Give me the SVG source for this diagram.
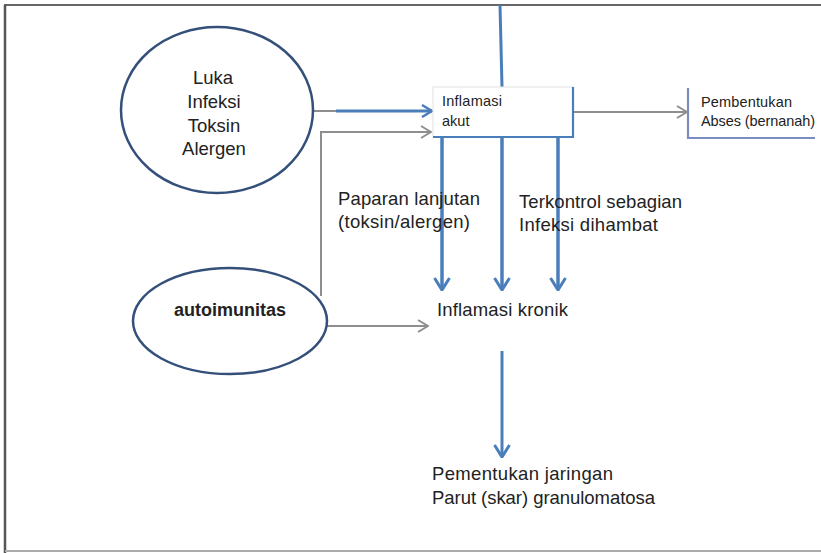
<svg xmlns="http://www.w3.org/2000/svg" width="821" height="553" viewBox="0 0 821 553">
<style>
.t{font-family:"Liberation Sans",Arial,sans-serif;font-size:18.5px;fill:#222}
.s{font-family:"Liberation Sans",Arial,sans-serif;font-size:14.5px;fill:#222}
.b{font-family:"Liberation Sans",Arial,sans-serif;font-size:18px;font-weight:bold;fill:#222}
.ell{fill:#fff;stroke:#34507a;stroke-width:2.5}
.blue{stroke:#4a7ebb;fill:none}
.gray{stroke:#8e8e8e;fill:none;stroke-width:2}
</style>
<defs>
<marker id="bh" viewBox="0 0 14 18" refX="13" refY="9" markerWidth="14" markerHeight="18" markerUnits="userSpaceOnUse" orient="auto">
<path d="M1,1.5 L13,9 L1,16.5" fill="none" stroke="#4a7ebb" stroke-width="3"/>
</marker>
<marker id="bs" viewBox="0 0 12 14" refX="11" refY="7" markerWidth="12" markerHeight="14" markerUnits="userSpaceOnUse" orient="auto">
<path d="M1,1 L11,7 L1,13" fill="none" stroke="#4a7ebb" stroke-width="2.5"/>
</marker>
<marker id="gh" viewBox="0 0 12 14" refX="11" refY="7" markerWidth="12" markerHeight="14" markerUnits="userSpaceOnUse" orient="auto">
<path d="M1,1 L11,7 L1,13" fill="none" stroke="#8e8e8e" stroke-width="2"/>
</marker>
</defs>
<rect width="821" height="553" fill="#fff"/>
<g id="frame">
<line x1="4" y1="5" x2="821" y2="5" stroke="#666" stroke-width="2"/>
<line x1="5" y1="5" x2="5" y2="553" stroke="#555" stroke-width="2.5"/>
<line x1="5" y1="551" x2="821" y2="551" stroke="#aaa" stroke-width="2"/>
</g>
<g id="connectors">
<line class="blue" x1="500" y1="5" x2="502" y2="87" stroke-width="3"/>
<line class="gray" x1="314" y1="111" x2="337" y2="111" stroke-width="2.5"/>
<line class="blue" x1="336" y1="111" x2="432" y2="111" stroke-width="3" marker-end="url(#bs)"/>
<polyline class="gray" points="321,296 321,132 431,132" marker-end="url(#gh)"/>
<line class="gray" x1="327" y1="326" x2="428" y2="326" marker-end="url(#gh)"/>
<line class="gray" x1="573" y1="112" x2="687" y2="112" marker-end="url(#gh)"/>
<line class="blue" x1="442" y1="132" x2="442" y2="290" stroke-width="3.5" marker-end="url(#bh)"/>
<line class="blue" x1="502" y1="137" x2="502" y2="290" stroke-width="3.5" marker-end="url(#bh)"/>
<line class="blue" x1="558" y1="135" x2="558" y2="290" stroke-width="3.5" marker-end="url(#bh)"/>
<line class="blue" x1="502" y1="351" x2="502" y2="457" stroke-width="3" marker-end="url(#bh)"/>
</g>
<g id="n-penyebab">
<ellipse class="ell" cx="217" cy="110" rx="96" ry="83"/>
<text class="t" x="213" y="84" text-anchor="middle">Luka</text>
<text class="t" x="214" y="108" text-anchor="middle">Infeksi</text>
<text class="t" x="214" y="132" text-anchor="middle">Toksin</text>
<text class="t" x="214" y="155" text-anchor="middle">Alergen</text>
</g>
<g id="n-autoimunitas">
<ellipse class="ell" cx="230" cy="321" rx="97" ry="53"/>
<text class="b" x="230" y="316" text-anchor="middle">autoimunitas</text>
</g>
<g id="n-akut">
<rect x="433" y="87" width="140" height="50" fill="#fff" stroke="#e2e2e2" stroke-width="1"/>
<polyline points="573,87 573,137 433,137" fill="none" stroke="#4a7ebb" stroke-width="2.2"/>
<text class="s" x="442" y="106" textLength="60" lengthAdjust="spacing">Inflamasi</text>
<text class="s" x="442" y="126">akut</text>
</g>
<g id="n-abses">
<polyline points="688,88 688,138 815,138" fill="none" stroke="#7a8cc0" stroke-width="2.2"/>
<text class="s" x="701" y="107" textLength="91" lengthAdjust="spacing">Pembentukan</text>
<text class="s" x="701" y="126" textLength="114" lengthAdjust="spacing">Abses (bernanah)</text>
</g>
<g id="l-paparan">
<text class="t" x="338" y="205" textLength="142" lengthAdjust="spacing">Paparan lanjutan</text>
<text class="t" x="338" y="228" textLength="132" lengthAdjust="spacing">(toksin/alergen)</text>
</g>
<g id="l-terkontrol">
<text class="t" x="519" y="208" textLength="163" lengthAdjust="spacing">Terkontrol sebagian</text>
<text class="t" x="519" y="231" textLength="139" lengthAdjust="spacing">Infeksi dihambat</text>
</g>
<g id="n-kronik">
<text class="t" x="437" y="316" textLength="131" lengthAdjust="spacing">Inflamasi kronik</text>
</g>
<g id="n-parut">
<text class="t" x="432" y="480" textLength="181" lengthAdjust="spacing">Pementukan jaringan</text>
<text class="t" x="432" y="504" textLength="223" lengthAdjust="spacing">Parut (skar) granulomatosa</text>
</g>
</svg>
